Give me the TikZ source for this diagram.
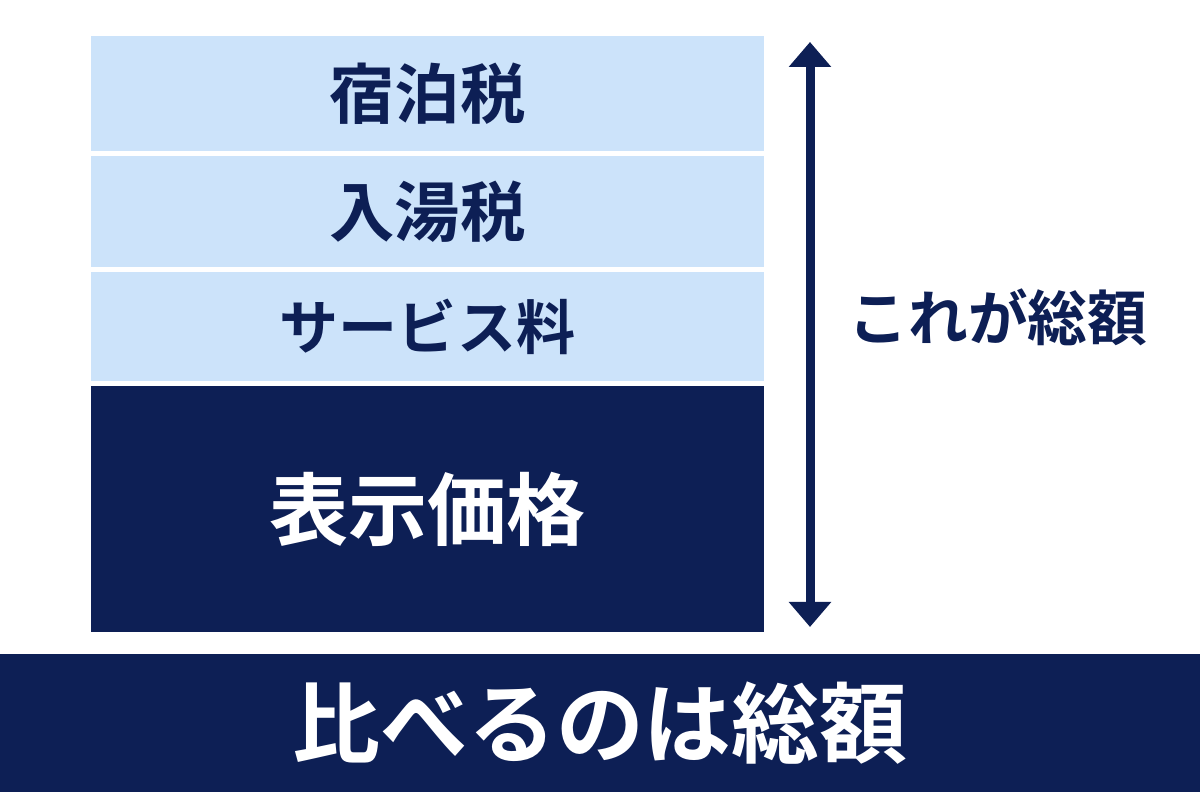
\documentclass[tikz,border=0pt]{standalone}
\usepackage{fontspec}
\usetikzlibrary{arrows.meta}
\newfontfamily\jp{Noto Sans CJK JP}[BoldFont={Noto Sans CJK JP Bold}]
\definecolor{navy}{HTML}{0D1F55}
\definecolor{pale}{HTML}{CCE3FA}

\begin{document}
\begin{tikzpicture}[x=1cm,y=1cm, every node/.style={font=\jp\bfseries, inner sep=0pt}]
    \useasboundingbox[fill=white] (0,0) rectangle (12,8);
    \foreach \n/\y/\h/\s/\t in {tax/7.065/1.15/18.6/宿泊税,bath/5.885/1.11/18.6/入湯税,serv/4.735/1.09/16.8/サービス料}{
        \node[fill=pale, text=navy, minimum width=6.73cm, minimum height=\h cm, font=\jp\bfseries\fontsize{\s}{\s}\selectfont] (\n) at (4.275,\y) {\t};
    }
    \node[fill=navy, text=white, minimum width=6.73cm, minimum height=2.46cm, font=\jp\bfseries\fontsize{22.5}{22.5}\selectfont] (price) at (4.275,2.91) {表示価格};
    \node[fill=navy, text=white, minimum width=12cm, minimum height=1.38cm, font=\jp\bfseries\fontsize{25}{25}\selectfont] (bar) at (6,0.77) {比べるのは総額};
    \coordinate (top) at (8.10,7.58);
    \coordinate (bot) at (8.10,1.73);
    \draw[{Triangle[width=0.41cm,length=0.25cm]}-{Triangle[width=0.41cm,length=0.25cm]}, navy, line width=0.09cm] (top) -- (bot);
    \node[text=navy, font=\jp\bfseries\fontsize{17}{17}\selectfont] (total) at (9.98,4.83) {これが総額};
\end{tikzpicture}
\end{document}
